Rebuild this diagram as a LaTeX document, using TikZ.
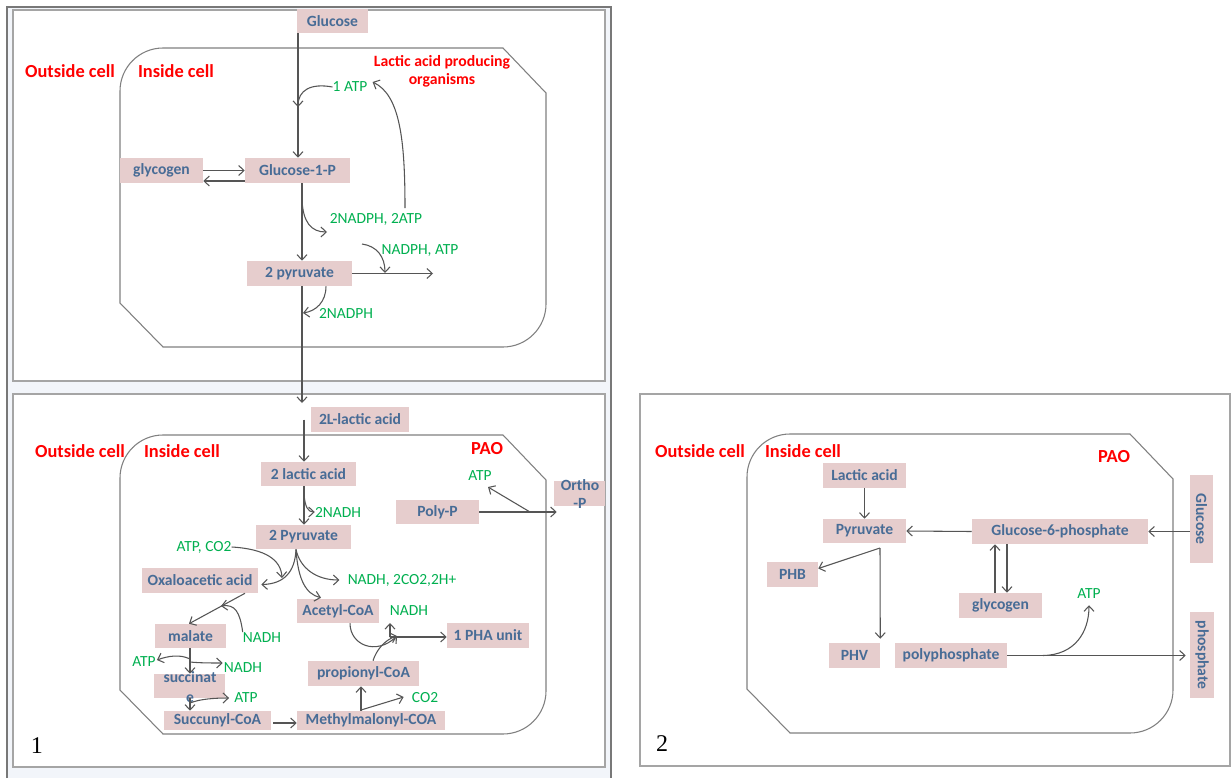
\documentclass[tikz,border=0pt]{standalone}
\usepackage{fontspec}
\setmainfont{Carlito}
\newfontfamily\numfont{Liberation Serif}
\usepackage{graphicx}
\usetikzlibrary{arrows.meta,calc}
\definecolor{boxfill}{RGB}{230,205,205}
\definecolor{boxtext}{RGB}{72,108,150}
\definecolor{grn}{RGB}{0,176,80}
\definecolor{lc}{RGB}{85,85,85}
\definecolor{cellc}{RGB}{128,128,128}
\definecolor{bgblue}{RGB}{242,245,250}
\definecolor{framec}{RGB}{165,165,165}
\definecolor{framedark}{RGB}{120,120,120}
\newcommand\cellshape[2]{\draw[cell,shift={(#1,#2)}] (0,43) .. controls (0,19.3) and (19.3,0) .. (43,0) -- (383,0) -- (426,45) -- (426,256) .. controls (426,279.7) and (406.7,299) .. (383,299) -- (43,299) -- (0,255) -- cycle;}
\begin{document}
\begin{tikzpicture}[x=0.75pt,y=-0.75pt,
 box/.style={fill=boxfill,text=boxtext,font=\bfseries\fontsize{11.7}{13}\selectfont,inner sep=0pt,align=center},
 bx/.style 2 args={minimum width=#1*0.75pt,minimum height=#2*0.75pt},
 lab/.style={text=grn,font=\fontsize{11.6}{13}\selectfont,inner sep=0pt},
 redlab/.style={text=red,font=\bfseries\fontsize{13.8}{15}\selectfont,inner sep=0pt},
 redsmall/.style={text=red,font=\bfseries\fontsize{11.8}{13.5}\selectfont,inner sep=0pt,align=center},
 arr/.style={draw=lc,line width=0.8pt,-{Straight Barb[length=4pt,width=7.5pt]}},
 cell/.style={draw=cellc,line width=0.8pt},
 numlab/.style={font=\numfont\fontsize{18}{20}\selectfont,inner sep=0pt},
]
\useasboundingbox (0,0) rectangle (1231,778);
% frames
\fill[bgblue] (7,7) rectangle (611,778);
\draw[framedark,line width=0.8pt] (7,778) -- (7,7) -- (611,7) -- (611,778);
\draw[framec,fill=white,line width=0.8pt] (13,10) rectangle (605,381);
\draw[framec,fill=white,line width=0.8pt] (13,394) rectangle (605,767);
\draw[framec,fill=white,line width=0.8pt] (640,394) rectangle (1230,766);
% cells
\cellshape{120}{48}
\cellshape{120}{435}
\cellshape{747}{434}

% ---------- panel 1 ----------
\node[redlab] (out1) at (70,71) {Outside cell};
\node[redlab] (in1) at (176,71) {Inside cell};
\node[redsmall] (lapo) at (442,71) {Lactic acid producing\\organisms};
\node[box,bx={71}{24}] (glc) at (332.5,21) {Glucose};
\node[box,bx={83}{25}] (glyc1) at (161.5,170.5) {glycogen};
\node[box,bx={105}{25}] (g1p) at (297.5,170.5) {Glucose-1-P};
\node[box,bx={105}{25}] (pyr1) at (299.5,273.5) {2 pyruvate};
\node[lab] (atp1) at (350,87) {1 ATP};
\node[lab] (nadph2atp) at (376,219) {2NADPH, 2ATP};
\node[lab] (nadphatp) at (420,251) {NADPH, ATP};
\node[lab] (nadph2) at (346,313) {2NADPH};

\coordinate (va) at (298,0);
\coordinate (vb) at (302,0);
\coordinate (j1) at (298,107);
\coordinate (r1) at (405,208);
\coordinate (b1) at (302,200);
\coordinate (b1e) at (327,232);
\coordinate (e1) at (433,273.5);
\coordinate (c1) at (362,244);
\coordinate (c1e) at (385,273);
\coordinate (d1) at (302,403);
\coordinate (n1e) at (303,313);
\draw[arr] (glc.south -| va) -- (g1p.north -| va);
\draw[arr] (atp1.west) .. controls (311,83) and (298,90) .. (j1);
\draw[arr] (r1) .. controls (405,140) and (400,95) .. ($(atp1.east)+(5,-5)$);
\draw[arr] (glyc1.east) -- (glyc1.east -| g1p.west);
\draw[arr] ($(g1p.west)+(0,10.5)$) -- ($(glyc1.east)+(0,10.5)$);
\draw[arr] (g1p.south -| vb) -- (pyr1.north -| vb);
\draw[arr] (b1) .. controls (303,222) and (311,232) .. (b1e);
\draw[arr] (pyr1.east) -- (e1);
\draw[arr] (c1) .. controls (377,246) and (385,257) .. (c1e);
\draw[arr] (pyr1.south -| vb) -- (d1);
\draw[arr] ($(pyr1.south)+(26.5,0)$) .. controls (326,302) and (316,311) .. (n1e);

% ---------- panel 2 ----------
\node[redlab] (out2) at (80,451) {Outside cell};
\node[redlab] (in2) at (182,451) {Inside cell};
\node[redlab] (pao2) at (487,449) {PAO};
\node[box,bx={98}{25}] (llac) at (360,419.5) {2L-lactic acid};
\node[box,bx={95}{24}] (lac2) at (308.5,474) {2 lactic acid};
\node[box,bx={95}{24}] (pyr2) at (303.5,537) {2 Pyruvate};
\node[box,bx={116}{25}] (oxa) at (200,580.5) {Oxaloacetic acid};
\node[box,bx={82}{24}] (acet) at (338,611) {Acetyl-CoA};
\node[box,bx={71}{24}] (mal) at (190.5,636) {malate};
\node[box,bx={71}{24}] (succ) at (189.5,686) {};
\node[box,fill=none,font=\bfseries\fontsize{11.7}{15}\selectfont] (succt) at (190,687.5) {succinat\\e};
\node[box,bx={107}{19}] (succoa) at (217.5,720.5) {Succunyl-CoA};
\node[box,bx={148}{19}] (meth) at (371,720.5) {Methylmalonyl-COA};
\node[box,bx={111}{25}] (prop) at (363.5,673.5) {propionyl-CoA};
\node[box,bx={82}{25}] (pha) at (488,635.5) {1 PHA unit};
\node[box,bx={83}{24}] (polyp) at (437.5,512) {Poly-P};
\node[box,bx={51}{25}] (ortho) at (579.5,493.5) {};
\node[box,fill=none,font=\bfseries\fontsize{11.7}{13.5}\selectfont] (orthot) at (580,494) {Ortho\\-P};
\node[lab] (nadh2) at (338,512) {2NADH};
\node[lab] (atpco2) at (204,547) {ATP, CO2};
\node[lab] (nadh2co2) at (402,580) {NADH, 2CO2,2H+};
\node[lab] (nadhA) at (409,611) {NADH};
\node[lab] (nadhM) at (262,638) {NADH};
\node[lab] (atpS) at (144,662) {ATP};
\node[lab] (nadhS) at (243,668) {NADH};
\node[lab] (atpS2) at (246,698) {ATP};
\node[lab] (co2) at (425,698) {CO2};
\node[lab] (atpP) at (480,476) {ATP};
\node[numlab] (n1) at (37,746) {1};

\coordinate (vc) at (304,0);
\coordinate (b2) at (304,494);
\coordinate (ac) at (282,578);
\coordinate (p2) at (296,549.5);
\coordinate (nm) at (221,606);
\coordinate (vm) at (190,0);
\coordinate (sm1) at (190,659);
\coordinate (sm2) at (190,662);
\coordinate (ss) at (190,703);
\coordinate (vp) at (361,0);
\coordinate (mc) at (361,710);
\coordinate (m1) at (390,637);
\coordinate (m1t) at (390,623);
\coordinate (mj) at (397,636);
\coordinate (pj2) at (530,512);
\coordinate (pj2e) at (488,487);
\draw[arr] (llac.west -| vc) -- (lac2.north -| vc);
\draw[arr] (lac2.south -| vc) -- (pyr2.north -| vc);
\draw[arr] (b2) .. controls (305,507) and (308,512) .. (nadh2.west);
\draw[arr] (atpco2.east) .. controls (266,549) and (281,560) .. (ac);
\draw[arr] (p2) .. controls (295,572) and (284,584) .. ($(oxa.east)+(3,4)$);
\draw[arr] (p2) .. controls (298,580) and (306,594) .. ($(acet.north)+(-17,-1)$);
\draw[arr] (p2) .. controls (300,568) and (316,580) .. ($(nadh2co2.west)+(-8,0)$);
\draw[arr] ($(oxa.south)+(45,0)$) -- ($(mal.north)+(-1.5,0)$);
\draw[arr] ($(nadhM.west)+(0,-6)$) .. controls (240,612) and (235,604) .. (nm);
\draw[arr] (mal.south -| vm) -- (succ.north -| vm);
\draw[arr] (sm1) .. controls (180,654) and (168,656) .. ($(atpS.east)+(1,-2)$);
\draw[arr] (sm2) .. controls (200,663) and (212,663) .. ($(nadhS.west)+(-1,-5)$);
\draw[arr] (succ.south -| vm) -- (succoa.north -| vm);
\draw[arr] (ss) .. controls (200,699) and (214,698) .. ($(atpS2.west)+(-5,0)$);
\draw[arr] ($(succoa.east)+(2,2.5)$) -- ($(meth.west)+(0,2.5)$);
\draw[arr] (meth.north -| vp) -- (prop.south -| vp);
\draw[arr] (mc) -- ($(co2.west)+(-8,-1)$);
\draw[arr] ($(prop.north)+(9.5,0)$) .. controls (376,651) and (384,640) .. (mj);
\draw[arr] ($(acet.south)+(12,0)$) .. controls (350,645) and (376,656) .. (mj);
\draw[arr] (m1) -- (m1t);
\draw[arr] (m1) -- (m1 -| pha.west);
\draw[arr] (polyp.east) -- ($(polyp.east -| ortho.west)+(3,0)$);
\draw[arr] (pj2) -- (pj2e);

% ---------- panel 3 ----------
\node[redlab] (out3) at (700,451) {Outside cell};
\node[redlab] (in3) at (803,451) {Inside cell};
\node[redlab] (pao3) at (1114,457) {PAO};
\node[box,bx={83}{25}] (lac3) at (864.5,475.5) {Lactic acid};
\node[box,bx={83}{24}] (pyr3) at (864.5,531) {Pyruvate};
\node[box,bx={176}{25}] (g6p) at (1060,531.5) {Glucose-6-phosphate};
\node[box,bx={23}{88}] (glc3) at (1201.5,519) {\rotatebox{-90}{Glucose}};
\node[box,bx={51}{25}] (phb) at (792.5,574.5) {PHB};
\node[box,bx={51}{25}] (phv) at (854.5,655.5) {PHV};
\node[box,bx={83}{25}] (glyc3) at (1000.5,605.5) {glycogen};
\node[box,bx={112}{25}] (polyph) at (951,655.5) {polyphosphate};
\node[box,bx={24}{86}] (phos) at (1202,655) {\rotatebox{-90}{phosphate}};
\node[lab] (atp3) at (1089,594) {ATP};
\node[numlab] (n2) at (662,744) {2};

\coordinate (pj) at (880,548);
\coordinate (gu) at (995,0);
\coordinate (gd) at (1007,0);
\coordinate (pp) at (1043,655.5);
\draw[arr] (lac3.south) -- (pyr3.north);
\draw[arr] (g6p.west) -- (pyr3.east);
\draw[arr] (glc3.west |- g6p.east) -- (g6p.east);
\draw[arr] (pj) -- ($(phb.east)+(0,-6)$);
\draw[arr] (pj) -- ($(phv.north east)+(0,-4)$);
\draw[arr] (glyc3.north -| gu) -- (g6p.south -| gu);
\draw[arr] (g6p.south -| gd) -- (glyc3.north -| gd);
\draw[arr] (polyph.east) -- ($(polyph.east -| phos.west)+(-4,0)$);
\draw[arr] (pp) .. controls (1075,655) and (1089,632) .. ($(atp3.south)+(0,6)$);
\end{tikzpicture}
\end{document}
